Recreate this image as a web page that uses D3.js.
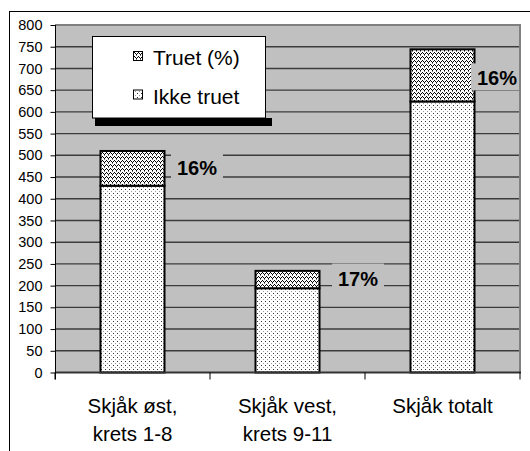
<!DOCTYPE html>
<html>
<head>
<meta charset="utf-8">
<script src="https://cdn.jsdelivr.net/npm/d3@7"></script>
<style>
  html, body { margin: 0; padding: 0; background: #fff; }
  svg { display: block; font-family: "Liberation Sans", Arial, sans-serif; }
</style>
</head>
<body>
<svg id="chart" width="530" height="451"></svg>
<script>
// Stemmeberettigede i Skjåk: truet / ikke truet
const categories = ["Skjåk øst,|krets 1-8", "Skjåk vest,|krets 9-11", "Skjåk totalt"];
const ikkeTruet = [430, 194, 624];
const truet = [80, 40, 120];
const percentLabels = ["16%", "17%", "16%"];
const seriesNames = ["Truet (%)", "Ikke truet"];
const yTicks = [0, 50, 100, 150, 200, 250, 300, 350, 400, 450, 500, 550, 600, 650, 700, 750, 800];

const svg = d3.select("#chart");
const plot = { left: 55, right: 520, top: 25, bottom: 372.5 };

const y = d3.scaleLinear().domain([0, 800]).range([plot.bottom, plot.top]);
const x = d3.scaleBand()
  .domain(categories)
  .range([plot.left, plot.right])
  .paddingInner(0.587)
  .paddingOuter(0.2935);
const step = x.step();

// fill patterns
const defs = svg.append("defs");
const dots = defs.append("pattern").attr("id", "pDots")
  .attr("patternUnits", "userSpaceOnUse").attr("width", 4).attr("height", 4);
dots.append("rect").attr("width", 4).attr("height", 4).attr("fill", "#fff");
dots.append("rect").attr("x", 1).attr("y", 1).attr("width", 1).attr("height", 1).attr("fill", "#333");
dots.append("rect").attr("x", 3).attr("y", 3).attr("width", 1).attr("height", 1).attr("fill", "#9a9a9a");

const wave = defs.append("pattern").attr("id", "pWave")
  .attr("patternUnits", "userSpaceOnUse").attr("width", 4).attr("height", 4);
wave.append("rect").attr("width", 4).attr("height", 4).attr("fill", "#fff");
[[2, 0], [1, 1], [3, 1], [0, 2]].forEach(([px, py]) =>
  wave.append("rect").attr("x", px).attr("y", py).attr("width", 1).attr("height", 1).attr("fill", "#000"));
wave.append("rect").attr("x", 0).attr("y", 3).attr("width", 1).attr("height", 1).attr("fill", "#777");

// outer frame
svg.append("line").attr("x1", 9.5).attr("x2", 9.5).attr("y1", 11).attr("y2", 451)
  .attr("stroke", "#000").attr("stroke-width", 1);
svg.append("line").attr("x1", 9).attr("x2", 530).attr("y1", 11.5).attr("y2", 11.5)
  .attr("stroke", "#000").attr("stroke-width", 1);

// plot area
svg.append("rect")
  .attr("x", plot.left).attr("y", plot.top)
  .attr("width", plot.right - plot.left).attr("height", plot.bottom - plot.top)
  .attr("fill", "#c0c0c0");

// gridlines
svg.append("g").selectAll("line").data(yTicks.filter(d => d > 0 && d < 800)).join("line")
  .attr("x1", plot.left).attr("x2", plot.right)
  .attr("y1", d => y(d)).attr("y2", d => y(d))
  .attr("stroke", "#3c3c3c").attr("stroke-width", 1.4);

// stacked bars
const bars = svg.append("g");
categories.forEach((c, i) => {
  const bx = x(c), bw = x.bandwidth();
  bars.append("rect")
    .attr("x", bx).attr("y", y(ikkeTruet[i]))
    .attr("width", bw).attr("height", y(0) - y(ikkeTruet[i]))
    .attr("fill", "url(#pDots)").attr("stroke", "#000").attr("stroke-width", 2);
  bars.append("rect")
    .attr("x", bx).attr("y", y(ikkeTruet[i] + truet[i]))
    .attr("width", bw).attr("height", y(ikkeTruet[i]) - y(ikkeTruet[i] + truet[i]))
    .attr("fill", "url(#pWave)").attr("stroke", "#000").attr("stroke-width", 2);
});

// percentage labels beside the upper segment
const labelDx = [64.5, 70.5, 54.5];
const labelDy = [7, 6, 10];
const labels = svg.append("g");
categories.forEach((c, i) => {
  const cx = x(c) + x.bandwidth() / 2 + labelDx[i];
  const base = y(ikkeTruet[i] + truet[i] / 2) + labelDy[i];
  const left = cx - 26, right = Math.min(cx + 26, plot.right);
  labels.append("rect")
    .attr("x", left).attr("y", base - 22)
    .attr("width", right - left).attr("height", 27)
    .attr("fill", "#c0c0c0");
  labels.append("text")
    .attr("x", cx).attr("y", base)
    .attr("text-anchor", "middle")
    .attr("font-size", 20).attr("font-weight", "bold").attr("fill", "#000")
    .text(percentLabels[i]);
});

// plot border (top/right)
svg.append("path")
  .attr("d", `M${plot.left},${plot.top}H${plot.right}V${plot.bottom}`)
  .attr("fill", "none").attr("stroke", "#808080").attr("stroke-width", 2);

// category axis baseline
svg.append("line")
  .attr("x1", plot.left).attr("x2", plot.right + 1)
  .attr("y1", plot.bottom).attr("y2", plot.bottom)
  .attr("stroke", "#333").attr("stroke-width", 2);

// y axis
const yAxis = d3.axisLeft(y).tickValues(yTicks).tickSize(5).tickPadding(8);
const yg = svg.append("g").attr("transform", `translate(${plot.left + 0.5},0)`).call(yAxis);
yg.select(".domain").remove();
yg.selectAll(".tick line").attr("stroke", "#000");
yg.selectAll(".tick text")
  .attr("font-family", "Liberation Sans, Arial, sans-serif")
  .attr("font-size", 14.5).attr("fill", "#000");
svg.append("line")
  .attr("x1", plot.left + 0.5).attr("x2", plot.left + 0.5)
  .attr("y1", plot.top).attr("y2", plot.bottom + 7)
  .attr("stroke", "#000").attr("stroke-width", 1);

// category tick marks at band boundaries
const bounds = d3.range(categories.length + 1).map(k => plot.left + k * step);
svg.append("g").selectAll("line").data(bounds).join("line")
  .attr("x1", d => d).attr("x2", d => d)
  .attr("y1", plot.bottom).attr("y2", plot.bottom + 7)
  .attr("stroke", "#000").attr("stroke-width", 1);

// category labels
const cat = svg.append("g");
categories.forEach(c => {
  const lines = c.split("|");
  const t = cat.append("text")
    .attr("x", x(c) + x.bandwidth() / 2)
    .attr("y", 413)
    .attr("text-anchor", "middle")
    .attr("font-size", 20.5).attr("fill", "#000");
  lines.forEach((ln, k) => {
    t.append("tspan").attr("x", x(c) + x.bandwidth() / 2).attr("dy", k === 0 ? 0 : 28).text(ln);
  });
});

// legend
const lg = svg.append("g");
lg.append("rect").attr("x", 95).attr("y", 118).attr("width", 177).attr("height", 8).attr("fill", "#000");
lg.append("rect").attr("x", 92.5).attr("y", 36.5).attr("width", 173).attr("height", 81.5)
  .attr("fill", "#fff").attr("stroke", "#000").attr("stroke-width", 1);
const legendFills = ["url(#pWave)", "url(#pDots)"];
const legendBase = [65, 103.5];
seriesNames.forEach((name, k) => {
  lg.append("rect")
    .attr("x", 133.5).attr("y", legendBase[k] - 13.5)
    .attr("width", 9).attr("height", 9)
    .attr("fill", legendFills[k]).attr("stroke", "#000").attr("stroke-width", 1);
  lg.append("text")
    .attr("x", 153).attr("y", legendBase[k])
    .attr("font-size", 21).attr("fill", "#000")
    .text(name);
});
</script>
</body>
</html>
